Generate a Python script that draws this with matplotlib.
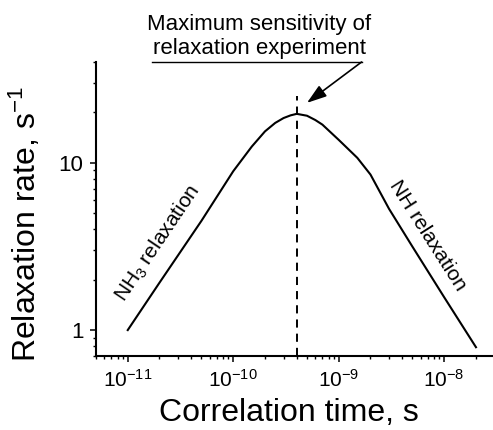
import matplotlib
matplotlib.use("Agg")
import matplotlib.pyplot as plt
from matplotlib.ticker import LogLocator, NullFormatter, FormatStrFormatter

plt.rcParams['font.family'] = 'Liberation Sans'
plt.rcParams['mathtext.fontset'] = 'custom'
plt.rcParams['mathtext.rm'] = 'Liberation Sans'
plt.rcParams['mathtext.it'] = 'Liberation Sans:italic'
plt.rcParams['mathtext.bf'] = 'Liberation Sans:bold'

# correlation time (s) and relaxation rate (1/s) along the curve
tau = [1e-11, 2e-11, 5e-11, 1e-10, 1.5e-10, 2e-10, 2.5e-10, 3e-10, 3.5e-10,
       4e-10, 5e-10, 6e-10, 7e-10, 1e-9, 1.5e-9, 2e-9, 3e-9, 5e-9, 1e-8, 2e-8]
rate = [1.0, 1.92, 4.5, 8.9, 12.5, 15.4, 17.3, 18.5, 19.2,
        19.6, 19.1, 18.0, 16.9, 13.7, 10.7, 8.5, 5.3, 3.15, 1.57, 0.79]

x_major = [1e-11, 1e-10, 1e-9, 1e-8]
y_major = [1, 10]

# position of maximum sensitivity and height of the dashed marker
tau_max = 4e-10
dash_top = 25.2

fig = plt.figure(figsize=(4.93, 4.3), dpi=100)
ax = fig.add_axes([0.1947, 0.1721, 0.8053, 0.6837])

ax.plot(tau, rate, color='k', lw=1.5)
ax.plot([tau_max, tau_max], [0.7, dash_top], color='k', lw=1.4, dashes=(4.2, 3.1))

ax.set_xscale('log')
ax.set_yscale('log')
ax.set_xlim(5e-12, 2.9e-8)
ax.set_ylim(0.7, 40)
ax.set_xticks(x_major)
ax.set_yticks(y_major)

for s in ['top', 'right']:
    ax.spines[s].set_visible(False)
for s in ['left', 'bottom']:
    ax.spines[s].set_linewidth(1.5)

ax.xaxis.set_minor_locator(LogLocator(base=10, subs=range(2, 10), numticks=20))
ax.yaxis.set_minor_locator(LogLocator(base=10, subs=range(2, 10), numticks=20))
ax.xaxis.set_minor_formatter(NullFormatter())
ax.yaxis.set_major_formatter(FormatStrFormatter('%g'))
ax.yaxis.set_minor_formatter(NullFormatter())
ax.tick_params(which='major', direction='out', length=4, width=1.1, pad=5)
ax.tick_params(which='minor', direction='out', length=2.2, width=1.0)
ax.tick_params(axis='x', labelsize=15)
ax.tick_params(axis='y', labelsize=16)

ax.set_xlabel('Correlation time, s', fontsize=23)
ax.xaxis.label.set(ha='center', va='center')
ax.xaxis.set_label_coords(0.486, -0.194)
ax.set_ylabel('Relaxation rate, s$^{-1}$', fontsize=23)
ax.yaxis.label.set(ha='center', va='center')
ax.yaxis.set_label_coords(-0.179, 0.449)

ax.text(1.92e-11, 3.32, 'NH$_3$ relaxation', rotation=56, rotation_mode='anchor',
        ha='center', va='center', fontsize=15)
ax.text(6.98e-9, 3.65, 'NH relaxation', rotation=-57.5, rotation_mode='anchor',
        ha='center', va='center', fontsize=15)

# underlined caption with arrow pointing at the peak
ax.text(0.411, 1.010, 'Maximum sensitivity of\nrelaxation experiment',
        transform=ax.transAxes, ha='center', va='bottom', fontsize=16,
        multialignment='center')
ax.plot([0.141, 0.669], [1.0, 1.0], transform=ax.transAxes, clip_on=False,
        color='k', lw=1.0)
ax.annotate('', xy=(5e-10, 22.8), xycoords='data',
            xytext=(0.669, 1.0), textcoords='axes fraction',
            arrowprops=dict(arrowstyle='-|>,head_length=0.6,head_width=0.2',
                            mutation_scale=20, color='k', lw=1.2,
                            shrinkA=0, shrinkB=0),
            annotation_clip=False)

fig.savefig('out.png', dpi=100)
